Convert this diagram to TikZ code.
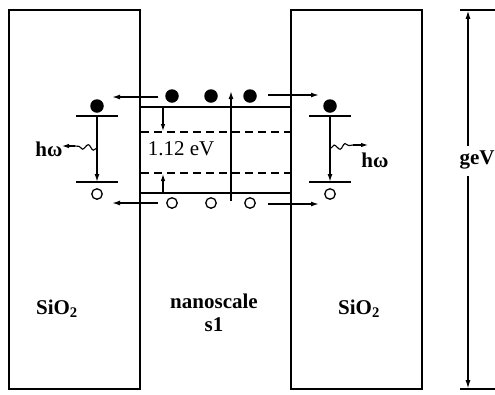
\documentclass[tikz,border=0pt]{standalone}
\usepackage{fontspec}
\setmainfont{Liberation Serif}
\usetikzlibrary{arrows.meta,decorations.pathmorphing}
\begin{document}
\begin{tikzpicture}[x=1pt,y=-1pt,
  line width=1.5pt,
  tip/.style={-{Latex[length=8pt,width=5pt]}},
  stip/.style={-{Latex[length=7pt,width=4.5pt]}},
  elec/.style={circle,fill=black,inner sep=0pt,minimum size=13.5pt},
  hole/.style={circle,draw=black,line width=1.3pt,inner sep=0pt,minimum size=10.5pt},
  lbl/.style={font=\fontsize{21}{23}\selectfont\bfseries,inner sep=0pt},
  lblr/.style={font=\fontsize{21}{23}\selectfont,inner sep=0pt},
  wave/.style={decorate,decoration={snake,amplitude=2.5pt,segment length=11pt}},
  dashline/.style={dash pattern=on 8pt off 5pt}
]
\useasboundingbox (0,0) rectangle (495,394);
% boxes
\draw (9,10) rectangle (140,389);
\draw (291,10) rectangle (422,389);
% band edges
\coordinate (cbL) at (140,107); \coordinate (cbR) at (291,107);
\coordinate (vbL) at (140,193); \coordinate (vbR) at (291,193);
\draw (cbL) -- (cbR);
\draw (vbL) -- (vbR);
\coordinate (d1L) at (141,132); \coordinate (d1R) at (291,132);
\coordinate (d2L) at (141,173); \coordinate (d2R) at (291,173);
\draw[dashline] (d1L) -- (d1R);
\draw[dashline] (d2L) -- (d2R);
% gap arrows
\coordinate (g1a) at (163,108); \coordinate (g1b) at (163,131);
\coordinate (g2a) at (163,193); \coordinate (g2b) at (163,174);
\draw[stip,line width=1.1pt] (g1a) -- (g1b);
\draw[stip,line width=1.1pt] (g2a) -- (g2b);
\node[lblr] (gap) at (181,149) {1.12 eV};
% electrons and holes in well
\node[elec] (e1) at (172,96) {};
\node[elec] (e2) at (211,96) {};
\node[elec] (e3) at (250,96) {};
\node[hole] (h1) at (172,203) {};
\node[hole] (h2) at (211,203) {};
\node[hole] (h3) at (250,203) {};
% excitation arrow
\coordinate (exa) at (231,201); \coordinate (exb) at (231,91);
\draw[tip] (exa) -- (exb);
% escape arrows
\coordinate (aTL1) at (158,97); \coordinate (aTL2) at (112,97);
\coordinate (aTR1) at (268,95); \coordinate (aTR2) at (319,95);
\coordinate (aBL1) at (158,203); \coordinate (aBL2) at (112,203);
\coordinate (aBR1) at (268,204); \coordinate (aBR2) at (319,204);
\draw[tip] (aTL1) -- (aTL2);
\draw[tip] (aTR1) -- (aTR2);
\draw[tip] (aBL1) -- (aBL2);
\draw[tip] (aBR1) -- (aBR2);
% left localized states
\node[elec] (le) at (97,106) {};
\node[hole] (lh) at (97,194) {};
\coordinate (lu1) at (76,116); \coordinate (lu2) at (118,116);
\coordinate (ld1) at (76,182); \coordinate (ld2) at (118,182);
\draw (lu1) -- (lu2);
\draw (ld1) -- (ld2);
\coordinate (lva) at (97,116); \coordinate (lvb) at (97,182);
\draw[tip] (lva) -- (lvb);
\coordinate (lw1) at (97,148); \coordinate (lw2) at (75,146); \coordinate (lw3) at (62,146);
\draw[wave,line width=1.1pt] (lw1) -- (lw2);
\draw[stip,line width=1.1pt] (lw2) -- (lw3);
\node[lbl] (lhw) at (49,149) {hω};
% right localized states
\node[elec] (re) at (330,106) {};
\node[hole] (rh) at (330,194) {};
\coordinate (ru1) at (309,116); \coordinate (ru2) at (351,116);
\coordinate (rd1) at (309,182); \coordinate (rd2) at (351,182);
\draw (ru1) -- (ru2);
\draw (rd1) -- (rd2);
\coordinate (rva) at (330,116); \coordinate (rvb) at (330,182);
\draw[tip] (rva) -- (rvb);
\coordinate (rw1) at (331,148); \coordinate (rw2) at (353,145); \coordinate (rw3) at (368,145);
\draw[wave,line width=1.1pt] (rw1) -- (rw2);
\draw[stip,line width=1.1pt] (rw2) -- (rw3);
\node[lbl] (rhw) at (375,160) {hω};
% labels
\node[lbl] (s1) at (57,309) {SiO\textsubscript{2}};
\node[lbl] (s2) at (359,309) {SiO\textsubscript{2}};
\node[lbl,align=center] (nano) at (214,313) {nanoscale\\[0pt]s1};
% geV scale
\coordinate (t1) at (460,10); \coordinate (t2) at (495,10);
\coordinate (b1) at (460,389); \coordinate (b2) at (495,389);
\draw (t1) -- (t2);
\draw (b1) -- (b2);
\node[lbl] (gev) at (477,160) {geV};
\coordinate (ga) at (468,146); \coordinate (gb) at (468,10.8);
\coordinate (gc) at (468,176); \coordinate (gd) at (468,388.2);
\draw[tip,line width=1.1pt] (ga) -- (gb);
\draw[tip,line width=1.1pt] (gc) -- (gd);
\end{tikzpicture}
\end{document}
